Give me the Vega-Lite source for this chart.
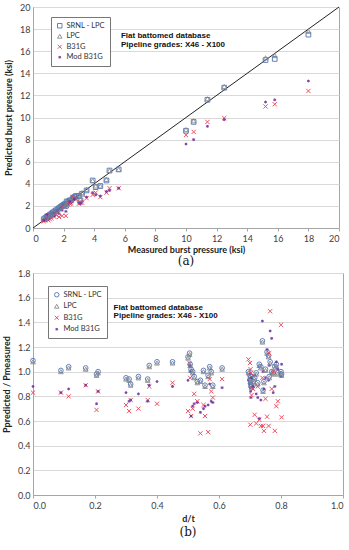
{
"$schema": "https://vega.github.io/schema/vega-lite/v6.json",
"padding": {"left": 1, "top": 2, "right": 5, "bottom": 0},
"spacing": 0,
"config": {
  "font": "Lato",
  "view": {"stroke": "#a6a6a6"},
  "axis": {"labelFontSize": 9, "labelColor": "#404040", "titleFontSize": 9, "titleFontWeight": "bold", "titleColor": "#222222", "domainColor": "#a6a6a6", "tickColor": "#a6a6a6", "gridColor": "#d9d9d9", "tickSize": 3, "labelPadding": 3},
  "title": {"font": "DejaVu Serif", "fontSize": 12, "fontWeight": "normal", "color": "#111111"}
},
"resolve": {"scale": {"shape": "independent", "color": "independent"}, "legend": {"shape": "independent", "color": "independent"}},
"datasets": {
  "a": [
    {"s":"SRNL - LPC","x":18.0,"y":17.5},{"s":"LPC","x":18.0,"y":17.8},{"s":"B31G","x":18.0,"y":12.4},{"s":"Mod B31G","x":18.0,"y":13.3},
    {"s":"SRNL - LPC","x":15.2,"y":15.2},{"s":"LPC","x":15.2,"y":15.4},{"s":"B31G","x":15.2,"y":11.0},{"s":"Mod B31G","x":15.2,"y":11.4},
    {"s":"SRNL - LPC","x":15.8,"y":15.3},{"s":"LPC","x":15.8,"y":15.6},{"s":"B31G","x":15.8,"y":11.2},{"s":"Mod B31G","x":15.8,"y":11.6},
    {"s":"SRNL - LPC","x":12.5,"y":12.7},{"s":"LPC","x":12.5,"y":12.8},{"s":"B31G","x":12.5,"y":9.95},{"s":"Mod B31G","x":12.5,"y":9.8},
    {"s":"SRNL - LPC","x":11.4,"y":11.6},{"s":"LPC","x":11.4,"y":11.7},{"s":"B31G","x":11.4,"y":9.6},{"s":"Mod B31G","x":11.4,"y":9.2},
    {"s":"SRNL - LPC","x":10.5,"y":9.6},{"s":"LPC","x":10.5,"y":9.7},{"s":"B31G","x":10.5,"y":8.7},{"s":"Mod B31G","x":10.5,"y":8.0},
    {"s":"SRNL - LPC","x":10.0,"y":8.8},{"s":"LPC","x":10.0,"y":8.9},{"s":"B31G","x":10.0,"y":8.4},{"s":"Mod B31G","x":10.0,"y":7.6},
    {"s":"SRNL - LPC","x":5.6,"y":5.3},{"s":"LPC","x":5.6,"y":5.3},{"s":"B31G","x":5.6,"y":3.6},{"s":"Mod B31G","x":5.6,"y":3.6},
    {"s":"SRNL - LPC","x":5.0,"y":5.2},{"s":"LPC","x":5.0,"y":5.2},{"s":"B31G","x":5.0,"y":3.6},{"s":"Mod B31G","x":5.0,"y":3.4},
    {"s":"SRNL - LPC","x":4.8,"y":4.3},{"s":"LPC","x":4.8,"y":4.4},{"s":"B31G","x":4.8,"y":3.2},{"s":"Mod B31G","x":4.8,"y":3.3},
    {"s":"SRNL - LPC","x":4.4,"y":3.8},{"s":"LPC","x":4.4,"y":3.8},{"s":"B31G","x":4.4,"y":2.8},{"s":"Mod B31G","x":4.4,"y":2.9},
    {"s":"SRNL - LPC","x":3.9,"y":4.3},{"s":"LPC","x":3.9,"y":4.3},{"s":"B31G","x":3.9,"y":3.0},{"s":"Mod B31G","x":3.9,"y":3.2},
    {"s":"SRNL - LPC","x":4.1,"y":3.7},{"s":"LPC","x":4.1,"y":3.8},{"s":"B31G","x":4.1,"y":3.2},{"s":"Mod B31G","x":4.1,"y":3.0},
    {"s":"SRNL - LPC","x":3.5,"y":3.4},{"s":"LPC","x":3.5,"y":3.5},{"s":"B31G","x":3.5,"y":2.7},{"s":"Mod B31G","x":3.5,"y":2.8},
    {"s":"SRNL - LPC","x":3.2,"y":3.1},{"s":"LPC","x":3.2,"y":3.2},{"s":"B31G","x":3.2,"y":2.3},{"s":"Mod B31G","x":3.2,"y":2.4},
    {"s":"SRNL - LPC","x":3.0,"y":2.9},{"s":"LPC","x":3.0,"y":3.0},{"s":"B31G","x":3.0,"y":2.2},{"s":"Mod B31G","x":3.0,"y":2.3},
    {"s":"SRNL - LPC","x":2.8,"y":2.9},{"s":"LPC","x":2.8,"y":2.9},{"s":"B31G","x":2.8,"y":2.6},{"s":"Mod B31G","x":2.8,"y":2.7},
    {"s":"SRNL - LPC","x":2.6,"y":2.7},{"s":"LPC","x":2.6,"y":2.8},{"s":"B31G","x":2.6,"y":2.8},{"s":"Mod B31G","x":2.6,"y":2.8},
    {"s":"SRNL - LPC","x":2.5,"y":2.5},{"s":"LPC","x":2.5,"y":2.6},{"s":"B31G","x":2.5,"y":2.2},{"s":"Mod B31G","x":2.5,"y":2.3},
    {"s":"SRNL - LPC","x":2.3,"y":2.4},{"s":"LPC","x":2.3,"y":2.5},{"s":"B31G","x":2.3,"y":2.1},{"s":"Mod B31G","x":2.3,"y":2.2},
    {"s":"SRNL - LPC","x":2.2,"y":2.4},{"s":"LPC","x":2.2,"y":2.4},{"s":"B31G","x":2.2,"y":2.0},{"s":"Mod B31G","x":2.2,"y":2.1},
    {"s":"SRNL - LPC","x":2.1,"y":2.2},{"s":"LPC","x":2.1,"y":2.2},{"s":"B31G","x":2.1,"y":1.9},{"s":"Mod B31G","x":2.1,"y":1.9},
    {"s":"SRNL - LPC","x":2.0,"y":2.1},{"s":"LPC","x":2.0,"y":2.1},{"s":"B31G","x":2.0,"y":2.1},{"s":"Mod B31G","x":2.0,"y":2.0},
    {"s":"SRNL - LPC","x":1.9,"y":2.0},{"s":"LPC","x":1.9,"y":2.0},{"s":"B31G","x":1.9,"y":1.1},{"s":"Mod B31G","x":1.9,"y":1.6},
    {"s":"SRNL - LPC","x":1.8,"y":1.9},{"s":"LPC","x":1.8,"y":1.9},{"s":"B31G","x":1.8,"y":1.8},{"s":"Mod B31G","x":1.8,"y":1.8},
    {"s":"SRNL - LPC","x":1.7,"y":1.8},{"s":"LPC","x":1.7,"y":1.8},{"s":"B31G","x":1.7,"y":1.0},{"s":"Mod B31G","x":1.7,"y":1.3},
    {"s":"SRNL - LPC","x":1.6,"y":1.7},{"s":"LPC","x":1.6,"y":1.7},{"s":"B31G","x":1.6,"y":1.5},{"s":"Mod B31G","x":1.6,"y":1.6},
    {"s":"SRNL - LPC","x":1.5,"y":1.6},{"s":"LPC","x":1.5,"y":1.6},{"s":"B31G","x":1.5,"y":1.2},{"s":"Mod B31G","x":1.5,"y":1.4},
    {"s":"SRNL - LPC","x":1.4,"y":1.5},{"s":"LPC","x":1.4,"y":1.5},{"s":"B31G","x":1.4,"y":1.0},{"s":"Mod B31G","x":1.4,"y":1.1},
    {"s":"SRNL - LPC","x":1.3,"y":1.4},{"s":"LPC","x":1.3,"y":1.4},{"s":"B31G","x":1.3,"y":1.3},{"s":"Mod B31G","x":1.3,"y":1.3},
    {"s":"SRNL - LPC","x":1.2,"y":1.3},{"s":"LPC","x":1.2,"y":1.3},{"s":"B31G","x":1.2,"y":0.9},{"s":"Mod B31G","x":1.2,"y":1.0},
    {"s":"SRNL - LPC","x":1.1,"y":1.2},{"s":"LPC","x":1.1,"y":1.2},{"s":"B31G","x":1.1,"y":0.8},{"s":"Mod B31G","x":1.1,"y":0.9},
    {"s":"SRNL - LPC","x":1.0,"y":1.1},{"s":"LPC","x":1.0,"y":1.1},{"s":"B31G","x":1.0,"y":0.7},{"s":"Mod B31G","x":1.0,"y":0.8},
    {"s":"SRNL - LPC","x":0.9,"y":1.0},{"s":"LPC","x":0.9,"y":1.0},{"s":"B31G","x":0.9,"y":1.1},{"s":"Mod B31G","x":0.9,"y":1.2},
    {"s":"SRNL - LPC","x":0.8,"y":0.9},{"s":"LPC","x":0.8,"y":0.9},{"s":"B31G","x":0.8,"y":0.7},{"s":"Mod B31G","x":0.8,"y":0.8},
    {"s":"SRNL - LPC","x":0.7,"y":0.8},{"s":"LPC","x":0.7,"y":0.8},{"s":"B31G","x":0.7,"y":0.6},{"s":"Mod B31G","x":0.7,"y":0.7},
    {"s":"SRNL - LPC","x":2.4,"y":2.5},{"s":"LPC","x":2.4,"y":2.5},{"s":"B31G","x":2.4,"y":2.2},{"s":"Mod B31G","x":2.4,"y":2.4},
    {"s":"SRNL - LPC","x":2.7,"y":2.8},{"s":"LPC","x":2.7,"y":2.8},{"s":"B31G","x":2.7,"y":2.7},{"s":"Mod B31G","x":2.7,"y":2.6},
    {"s":"SRNL - LPC","x":2.15,"y":2.0},{"s":"LPC","x":2.15,"y":2.1},{"s":"B31G","x":2.15,"y":1.1},{"s":"Mod B31G","x":2.15,"y":1.5},
    {"s":"SRNL - LPC","x":3.1,"y":2.5},{"s":"LPC","x":3.1,"y":2.6},{"s":"B31G","x":3.1,"y":2.3},{"s":"Mod B31G","x":3.1,"y":2.2}
  ],
  "b": [
    {"s":"SRNL - LPC","x":0.0,"y":1.09},{"s":"LPC","x":0.0,"y":1.08},{"s":"B31G","x":0.0,"y":0.83},{"s":"Mod B31G","x":0.0,"y":0.88},
    {"s":"SRNL - LPC","x":0.09,"y":1.01},{"s":"LPC","x":0.09,"y":1.0},{"s":"B31G","x":0.09,"y":0.83},{"s":"Mod B31G","x":0.09,"y":0.83},
    {"s":"SRNL - LPC","x":0.115,"y":1.04},{"s":"LPC","x":0.115,"y":1.03},{"s":"B31G","x":0.115,"y":0.8},{"s":"Mod B31G","x":0.115,"y":0.86},
    {"s":"SRNL - LPC","x":0.17,"y":1.03},{"s":"LPC","x":0.17,"y":1.02},{"s":"B31G","x":0.17,"y":0.89},{"s":"Mod B31G","x":0.17,"y":0.89},
    {"s":"SRNL - LPC","x":0.205,"y":0.98},{"s":"LPC","x":0.205,"y":0.97},{"s":"B31G","x":0.205,"y":0.69},{"s":"Mod B31G","x":0.205,"y":0.74},
    {"s":"SRNL - LPC","x":0.21,"y":1.0},{"s":"LPC","x":0.21,"y":0.99},{"s":"B31G","x":0.21,"y":0.84},{"s":"Mod B31G","x":0.21,"y":0.84},
    {"s":"SRNL - LPC","x":0.30,"y":0.95},{"s":"LPC","x":0.30,"y":0.94},{"s":"B31G","x":0.30,"y":0.73},{"s":"Mod B31G","x":0.30,"y":0.83},
    {"s":"SRNL - LPC","x":0.31,"y":0.94},{"s":"LPC","x":0.31,"y":0.93},{"s":"B31G","x":0.31,"y":0.68},{"s":"Mod B31G","x":0.31,"y":0.76},
    {"s":"SRNL - LPC","x":0.315,"y":0.9},{"s":"LPC","x":0.315,"y":0.89},{"s":"B31G","x":0.315,"y":0.77},{"s":"Mod B31G","x":0.315,"y":0.77},
    {"s":"SRNL - LPC","x":0.34,"y":0.96},{"s":"LPC","x":0.34,"y":0.95},{"s":"B31G","x":0.34,"y":0.7},{"s":"Mod B31G","x":0.34,"y":0.82},
    {"s":"SRNL - LPC","x":0.37,"y":0.94},{"s":"LPC","x":0.37,"y":0.93},{"s":"B31G","x":0.37,"y":0.77},{"s":"Mod B31G","x":0.37,"y":0.76},
    {"s":"SRNL - LPC","x":0.375,"y":1.05},{"s":"LPC","x":0.375,"y":1.04},{"s":"B31G","x":0.375,"y":0.88},{"s":"Mod B31G","x":0.375,"y":0.89},
    {"s":"SRNL - LPC","x":0.40,"y":1.08},{"s":"LPC","x":0.40,"y":1.07},{"s":"B31G","x":0.40,"y":0.74},{"s":"Mod B31G","x":0.40,"y":0.92},
    {"s":"SRNL - LPC","x":0.45,"y":1.08},{"s":"LPC","x":0.45,"y":1.07},{"s":"B31G","x":0.45,"y":0.91},{"s":"Mod B31G","x":0.45,"y":0.88},
    {"s":"SRNL - LPC","x":0.50,"y":1.12},{"s":"LPC","x":0.50,"y":1.11},{"s":"B31G","x":0.50,"y":0.68},{"s":"Mod B31G","x":0.50,"y":0.93},
    {"s":"SRNL - LPC","x":0.505,"y":1.15},{"s":"LPC","x":0.505,"y":1.14},{"s":"B31G","x":0.505,"y":1.07},{"s":"Mod B31G","x":0.505,"y":1.05},
    {"s":"SRNL - LPC","x":0.507,"y":1.06},{"s":"LPC","x":0.507,"y":1.05},{"s":"B31G","x":0.507,"y":0.95},{"s":"Mod B31G","x":0.507,"y":1.0},
    {"s":"SRNL - LPC","x":0.51,"y":1.02},{"s":"LPC","x":0.51,"y":1.01},{"s":"B31G","x":0.51,"y":0.64},{"s":"Mod B31G","x":0.51,"y":0.64},
    {"s":"SRNL - LPC","x":0.515,"y":1.0},{"s":"LPC","x":0.515,"y":0.99},{"s":"B31G","x":0.515,"y":0.7},{"s":"Mod B31G","x":0.515,"y":0.72},
    {"s":"SRNL - LPC","x":0.52,"y":0.96},{"s":"LPC","x":0.52,"y":0.95},{"s":"B31G","x":0.52,"y":0.82},{"s":"Mod B31G","x":0.52,"y":0.74},
    {"s":"SRNL - LPC","x":0.53,"y":0.92},{"s":"LPC","x":0.53,"y":0.91},{"s":"B31G","x":0.53,"y":0.76},{"s":"Mod B31G","x":0.53,"y":0.75},
    {"s":"SRNL - LPC","x":0.54,"y":0.93},{"s":"LPC","x":0.54,"y":0.92},{"s":"B31G","x":0.54,"y":0.5},{"s":"Mod B31G","x":0.54,"y":0.67},
    {"s":"SRNL - LPC","x":0.55,"y":1.01},{"s":"LPC","x":0.55,"y":1.0},{"s":"B31G","x":0.55,"y":0.73},{"s":"Mod B31G","x":0.55,"y":0.7},
    {"s":"SRNL - LPC","x":0.555,"y":0.89},{"s":"LPC","x":0.555,"y":0.88},{"s":"B31G","x":0.555,"y":0.64},{"s":"Mod B31G","x":0.555,"y":0.72},
    {"s":"SRNL - LPC","x":0.565,"y":0.97},{"s":"LPC","x":0.565,"y":0.96},{"s":"B31G","x":0.565,"y":0.51},{"s":"Mod B31G","x":0.565,"y":0.73},
    {"s":"SRNL - LPC","x":0.57,"y":1.04},{"s":"LPC","x":0.57,"y":1.03},{"s":"B31G","x":0.57,"y":0.94},{"s":"Mod B31G","x":0.57,"y":0.9},
    {"s":"SRNL - LPC","x":0.575,"y":1.0},{"s":"LPC","x":0.575,"y":0.99},{"s":"B31G","x":0.575,"y":0.84},{"s":"Mod B31G","x":0.575,"y":0.76},
    {"s":"SRNL - LPC","x":0.58,"y":0.89},{"s":"LPC","x":0.58,"y":0.88},{"s":"B31G","x":0.58,"y":0.79},{"s":"Mod B31G","x":0.58,"y":0.75},
    {"s":"SRNL - LPC","x":0.61,"y":1.03},{"s":"LPC","x":0.61,"y":1.02},{"s":"B31G","x":0.61,"y":0.94},{"s":"Mod B31G","x":0.61,"y":0.87},
    {"s":"SRNL - LPC","x":0.695,"y":1.0},{"s":"LPC","x":0.695,"y":0.99},{"s":"B31G","x":0.695,"y":1.1},{"s":"Mod B31G","x":0.695,"y":0.93},
    {"s":"SRNL - LPC","x":0.70,"y":0.97},{"s":"LPC","x":0.70,"y":0.96},{"s":"B31G","x":0.70,"y":1.07},{"s":"Mod B31G","x":0.70,"y":0.9},
    {"s":"SRNL - LPC","x":0.701,"y":0.93},{"s":"LPC","x":0.701,"y":0.92},{"s":"B31G","x":0.701,"y":0.57},{"s":"Mod B31G","x":0.701,"y":0.87},
    {"s":"SRNL - LPC","x":0.702,"y":0.9},{"s":"LPC","x":0.702,"y":0.89},{"s":"B31G","x":0.702,"y":1.02},{"s":"Mod B31G","x":0.702,"y":0.84},
    {"s":"SRNL - LPC","x":0.703,"y":0.96},{"s":"LPC","x":0.703,"y":0.95},{"s":"B31G","x":0.703,"y":0.99},{"s":"Mod B31G","x":0.703,"y":0.79},
    {"s":"SRNL - LPC","x":0.705,"y":0.88},{"s":"LPC","x":0.705,"y":0.87},{"s":"B31G","x":0.705,"y":0.81},{"s":"Mod B31G","x":0.705,"y":0.95},
    {"s":"SRNL - LPC","x":0.71,"y":0.92},{"s":"LPC","x":0.71,"y":0.91},{"s":"B31G","x":0.71,"y":0.86},{"s":"Mod B31G","x":0.71,"y":0.88},
    {"s":"SRNL - LPC","x":0.715,"y":0.95},{"s":"LPC","x":0.715,"y":0.94},{"s":"B31G","x":0.715,"y":0.65},{"s":"Mod B31G","x":0.715,"y":0.97},
    {"s":"SRNL - LPC","x":0.72,"y":0.99},{"s":"LPC","x":0.72,"y":0.98},{"s":"B31G","x":0.72,"y":0.58},{"s":"Mod B31G","x":0.72,"y":0.82},
    {"s":"SRNL - LPC","x":0.725,"y":0.91},{"s":"LPC","x":0.725,"y":0.9},{"s":"B31G","x":0.725,"y":0.88},{"s":"Mod B31G","x":0.725,"y":0.79},
    {"s":"SRNL - LPC","x":0.73,"y":1.06},{"s":"LPC","x":0.73,"y":1.05},{"s":"B31G","x":0.73,"y":0.61},{"s":"Mod B31G","x":0.73,"y":0.62},
    {"s":"SRNL - LPC","x":0.735,"y":1.04},{"s":"LPC","x":0.735,"y":1.03},{"s":"B31G","x":0.735,"y":0.56},{"s":"Mod B31G","x":0.735,"y":0.77},
    {"s":"SRNL - LPC","x":0.74,"y":1.25},{"s":"LPC","x":0.74,"y":1.24},{"s":"B31G","x":0.74,"y":0.95},{"s":"Mod B31G","x":0.74,"y":1.41},
    {"s":"SRNL - LPC","x":0.742,"y":0.85},{"s":"LPC","x":0.742,"y":0.84},{"s":"B31G","x":0.742,"y":0.56},{"s":"Mod B31G","x":0.742,"y":1.0},
    {"s":"SRNL - LPC","x":0.745,"y":0.92},{"s":"LPC","x":0.745,"y":0.91},{"s":"B31G","x":0.745,"y":0.52},{"s":"Mod B31G","x":0.745,"y":0.86},
    {"s":"SRNL - LPC","x":0.75,"y":1.02},{"s":"LPC","x":0.75,"y":1.01},{"s":"B31G","x":0.75,"y":0.78},{"s":"Mod B31G","x":0.75,"y":0.95},
    {"s":"SRNL - LPC","x":0.755,"y":1.16},{"s":"LPC","x":0.755,"y":1.15},{"s":"B31G","x":0.755,"y":0.635},{"s":"Mod B31G","x":0.755,"y":1.18},
    {"s":"SRNL - LPC","x":0.76,"y":1.13},{"s":"LPC","x":0.76,"y":1.12},{"s":"B31G","x":0.76,"y":0.56},{"s":"Mod B31G","x":0.76,"y":0.93},
    {"s":"SRNL - LPC","x":0.762,"y":0.96},{"s":"LPC","x":0.762,"y":0.95},{"s":"B31G","x":0.762,"y":1.15},{"s":"Mod B31G","x":0.762,"y":1.05},
    {"s":"SRNL - LPC","x":0.765,"y":1.08},{"s":"LPC","x":0.765,"y":1.07},{"s":"B31G","x":0.765,"y":1.49},{"s":"Mod B31G","x":0.765,"y":1.33},
    {"s":"SRNL - LPC","x":0.77,"y":1.0},{"s":"LPC","x":0.77,"y":0.99},{"s":"B31G","x":0.77,"y":0.86},{"s":"Mod B31G","x":0.77,"y":1.27},
    {"s":"SRNL - LPC","x":0.775,"y":0.99},{"s":"LPC","x":0.775,"y":0.98},{"s":"B31G","x":0.775,"y":1.0},{"s":"Mod B31G","x":0.775,"y":0.83},
    {"s":"SRNL - LPC","x":0.78,"y":1.04},{"s":"LPC","x":0.78,"y":1.03},{"s":"B31G","x":0.78,"y":0.52},{"s":"Mod B31G","x":0.78,"y":0.88},
    {"s":"SRNL - LPC","x":0.785,"y":1.06},{"s":"LPC","x":0.785,"y":1.05},{"s":"B31G","x":0.785,"y":0.72},{"s":"Mod B31G","x":0.785,"y":1.08},
    {"s":"SRNL - LPC","x":0.79,"y":0.99},{"s":"LPC","x":0.79,"y":0.98},{"s":"B31G","x":0.79,"y":0.76},{"s":"Mod B31G","x":0.79,"y":1.02},
    {"s":"SRNL - LPC","x":0.80,"y":1.0},{"s":"LPC","x":0.80,"y":0.99},{"s":"B31G","x":0.80,"y":1.38},{"s":"Mod B31G","x":0.80,"y":0.96},
    {"s":"SRNL - LPC","x":0.802,"y":0.98},{"s":"LPC","x":0.802,"y":0.97},{"s":"B31G","x":0.802,"y":0.63},{"s":"Mod B31G","x":0.802,"y":1.06}
  ]
},
"vconcat": [
  {
    "width": 306, "height": 221,
    "title": {"text": "(a)", "orient": "bottom", "offset": 2},
    "encoding": {
      "x": {"field": "x", "type": "quantitative", "scale": {"domain": [0, 20], "nice": false}, "axis": {"values": [0,2,4,6,8,10,12,14,16,18,20], "grid": false, "title": "Measured burst pressure (ksi)", "titlePadding": 2}},
      "y": {"field": "y", "type": "quantitative", "scale": {"domain": [0, 20], "nice": false}, "axis": {"values": [0,2,4,6,8,10,12,14,16,18,20], "grid": true, "ticks": false, "title": "Predicted burst pressure (ksi)", "titlePadding": 6}}
    },
    "layer": [
      {"data": {"values": [{"x": 0, "y": 0}, {"x": 20, "y": 20}]}, "mark": {"type": "line", "color": "#222222", "strokeWidth": 1}},
      {"data": {"name": "a"},
       "mark": {"type": "point", "filled": false, "strokeWidth": 1, "size": 22, "opacity": 0.9},
       "encoding": {
         "shape": {"field": "s", "type": "nominal", "sort": null, "scale": {"domain": ["SRNL - LPC", "LPC", "B31G", "Mod B31G"], "range": ["square", "triangle-up", "M-0.9,-0.9L0.9,0.9M-0.9,0.9L0.9,-0.9", "M-0.6,0L0.6,0M0,-0.6L0,0.6M-0.42,-0.42L0.42,0.42M-0.42,0.42L0.42,-0.42"]},
           "legend": {"orient": "none", "legendX": 18, "legendY": 10, "title": null, "strokeColor": "#777777", "fillColor": "white", "padding": 5, "labelFontSize": 7.5, "labelColor": "#333333", "symbolSize": 20, "rowPadding": 1.5, "symbolStrokeWidth": 1, "labelOffset": 3}},
         "color": {"field": "s", "type": "nominal", "sort": null, "scale": {"domain": ["SRNL - LPC", "LPC", "B31G", "Mod B31G"], "range": ["#4f74b6", "#8a8a8a", "#f03c50", "#7030a0"]},
           "legend": {"orient": "none", "legendX": 18, "legendY": 10, "title": null, "strokeColor": "#777777", "fillColor": "white", "padding": 5, "labelFontSize": 7.5, "labelColor": "#333333", "symbolSize": 20, "rowPadding": 1.5, "symbolStrokeWidth": 1, "labelOffset": 3}}
       }},
      {"data": {"values": [{"x": 5.75, "y": 17.4, "t": "Flat battomed database"}, {"x": 5.75, "y": 16.6, "t": "Pipeline grades: X46 - X100"}]},
       "mark": {"type": "text", "align": "left", "baseline": "middle", "font": "Liberation Sans", "fontWeight": "bold", "fontSize": 8, "color": "#111111"},
       "encoding": {"text": {"field": "t"}}}
    ]
  },
  {
    "width": 310, "height": 222,
    "title": {"text": "(b)", "orient": "bottom", "offset": 4},
    "encoding": {
      "x": {"field": "x", "type": "quantitative", "scale": {"domain": [0, 1], "nice": false}, "axis": {"values": [0,0.2,0.4,0.6,0.8,1], "format": ".1f", "grid": false, "title": "d/t", "titlePadding": 4}},
      "y": {"field": "y", "type": "quantitative", "scale": {"domain": [0, 1.8], "nice": false}, "axis": {"values": [0,0.2,0.4,0.6,0.8,1,1.2,1.4,1.6,1.8], "format": ".1f", "grid": true, "ticks": false, "title": "Ppredicted / Pmeasured", "titlePadding": 6}}
    },
    "layer": [
      {"data": {"name": "b"},
       "mark": {"type": "point", "filled": false, "strokeWidth": 1, "size": 22, "opacity": 0.9},
       "encoding": {
         "shape": {"field": "s", "type": "nominal", "sort": null, "scale": {"domain": ["SRNL - LPC", "LPC", "B31G", "Mod B31G"], "range": ["circle", "triangle-up", "M-0.9,-0.9L0.9,0.9M-0.9,0.9L0.9,-0.9", "M-0.6,0L0.6,0M0,-0.6L0,0.6M-0.42,-0.42L0.42,0.42M-0.42,0.42L0.42,-0.42"]},
           "legend": {"orient": "none", "legendX": 15, "legendY": 13, "title": null, "strokeColor": "#777777", "fillColor": "white", "padding": 5, "labelFontSize": 7.5, "labelColor": "#333333", "symbolSize": 20, "rowPadding": 2.5, "symbolStrokeWidth": 1, "labelOffset": 3}},
         "color": {"field": "s", "type": "nominal", "sort": null, "scale": {"domain": ["SRNL - LPC", "LPC", "B31G", "Mod B31G"], "range": ["#4f74b6", "#8a8a8a", "#f03c50", "#7030a0"]},
           "legend": {"orient": "none", "legendX": 15, "legendY": 13, "title": null, "strokeColor": "#777777", "fillColor": "white", "padding": 5, "labelFontSize": 7.5, "labelColor": "#333333", "symbolSize": 20, "rowPadding": 2.5, "symbolStrokeWidth": 1, "labelOffset": 3}}
       }},
      {"data": {"values": [{"x": 0.26, "y": 1.515, "t": "Flat battomed database"}, {"x": 0.26, "y": 1.45, "t": "Pipeline grades: X46 - X100"}]},
       "mark": {"type": "text", "align": "left", "baseline": "middle", "font": "Liberation Sans", "fontWeight": "bold", "fontSize": 8, "color": "#111111"},
       "encoding": {"text": {"field": "t"}}}
    ]
  }
]
}
